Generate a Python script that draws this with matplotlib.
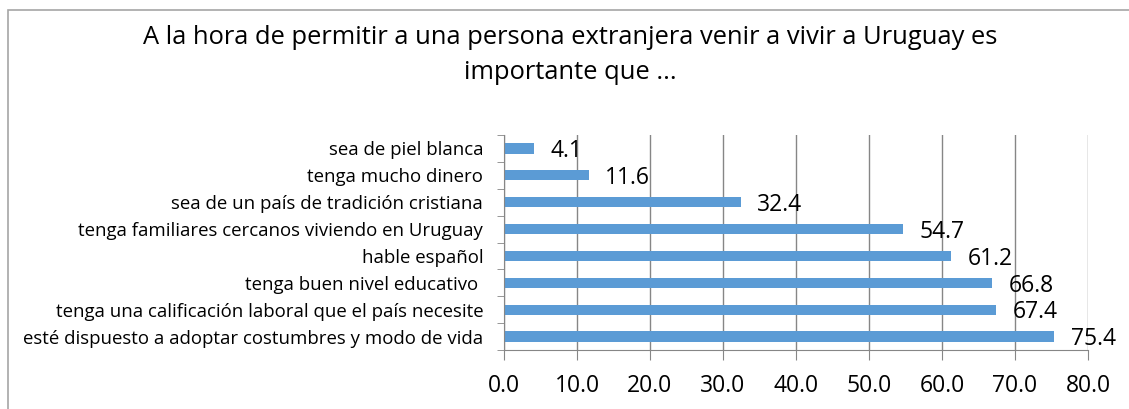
import matplotlib
matplotlib.use("Agg")
from matplotlib import pyplot as plt
from matplotlib.patches import Rectangle

plt.rcParams['font.family'] = ['Open Sans', 'DejaVu Sans']

categories = [
    'esté dispuesto a adoptar costumbres y modo de vida',
    'tenga una calificación laboral que el país necesite',
    'tenga buen nivel educativo ',
    'hable español',
    'tenga familiares cercanos viviendo en Uruguay',
    'sea de un país de tradición cristiana',
    'tenga mucho dinero',
    'sea de piel blanca',
]
values = [75.4, 67.4, 66.8, 61.2, 54.7, 32.4, 11.6, 4.1]
xticks = [0, 10, 20, 30, 40, 50, 60, 70, 80]
title = 'A la hora de permitir a una persona extranjera venir a vivir a Uruguay es\nimportante que ...'

fig = plt.figure(figsize=(11.29, 4.09), dpi=100)
fig.patches.append(Rectangle((8 / 1129, -0.1), 1.2, 1 - 10 / 409 + 0.1,
                             transform=fig.transFigure, fill=False,
                             edgecolor='#a6a6a6', linewidth=1.2))
ax = fig.add_axes([504 / 1129, 1 - 350 / 409, 584 / 1129, 215 / 409])

pos = list(range(len(categories)))
ax.barh(pos, values, height=0.38, color='#5b9bd5')
for p, v in zip(pos, values):
    ax.annotate(f'{v:.1f}', (v, p), xytext=(12, -2), textcoords='offset points',
                ha='left', va='center', fontsize=16.5, color='black')

ax.set_xlim(0, 80)
ax.set_ylim(-0.5, len(categories) - 0.5)
ax.set_xticks(xticks)
ax.set_xticklabels([f'{t:.1f}' for t in xticks], fontsize=16.5)
ax.set_yticks(pos)
ax.set_yticklabels(categories, fontsize=13.4)
ax.set_yticks([p - 0.5 for p in pos] + [len(categories) - 0.5], minor=True)
ax.tick_params(axis='y', which='major', length=0, pad=15)
ax.tick_params(axis='y', which='minor', length=5, color='#868686')
ax.tick_params(axis='x', length=7, color='#868686', pad=10)
ax.grid(axis='x', color='#868686', linewidth=1)
ax.set_axisbelow(True)
for s in ['top', 'right']:
    ax.spines[s].set_visible(False)
for s in ['left', 'bottom']:
    ax.spines[s].set_color('#868686')

fig.text(570 / 1129, 1 - 55 / 409, title, ha='center', va='center',
         fontsize=18.4, linespacing=1.5)

fig.savefig('out.png', dpi=100)
